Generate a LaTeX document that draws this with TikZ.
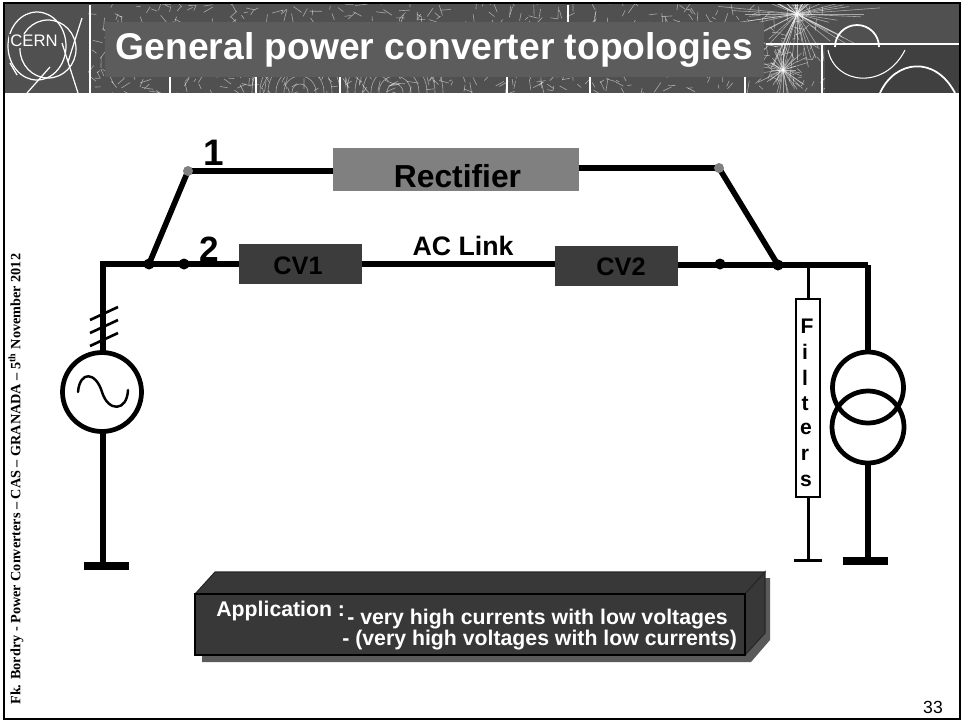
\documentclass[tikz,border=0pt]{standalone}
\usepackage{fontspec}
\setmainfont{Liberation Sans}
\newfontfamily\serifbold{Liberation Serif}
\usepackage{tikz}
\usetikzlibrary{calc}
\definecolor{bannergray}{HTML}{505050}
\definecolor{titlegray}{HTML}{5C5C5C}
\definecolor{rectgray}{HTML}{808080}
\definecolor{cvgray}{HTML}{3C3C3C}
\definecolor{appgray}{HTML}{383838}
\definecolor{shadowgray}{HTML}{5A5A5A}
\tikzset{
    bus/.style={line width=3.2pt, line join=miter},
    thinbus/.style={line width=1.7pt},
    cvbox/.style={fill=cvgray, minimum width=123*0.02cm, minimum height=40*0.02cm, inner sep=0pt},
    cvlabel/.style={font=\fontsize{14.4}{15}\selectfont\bfseries, inner sep=0pt},
    coil/.style={draw, circle, line width=2.7pt, outer sep=0pt, inner sep=0pt},
    letter/.style={font=\fontsize{12}{12}\selectfont\bfseries, inner sep=0pt},
    apptext/.style={font=\fontsize{12.1}{13}\selectfont\bfseries, text=white, inner sep=0pt, anchor=west},
    tex/.style={white, opacity=0.5, line width=0.35pt}
}
\begin{document}
\begin{tikzpicture}[x=0.02cm, y=-0.02cm]
    \useasboundingbox (0,0) rectangle (963,721);
    \fill[white] (0,0) rectangle (963,721);
    % banner
    \fill[bannergray] (4,4) rectangle (960,93);
    \begin{scope}
        \clip (4,4) rectangle (960,93);
        \pgfmathsetseed{33}
        \foreach \i in {1,...,700}{
            \pgfmathsetmacro{\px}{90+rnd*735}
            \pgfmathsetmacro{\py}{4+rnd*89}
            \pgfmathsetmacro{\pa}{rnd*360}
            \draw[tex] (\px,\py) -- ++(\pa:3+rnd*10);
        }
        \foreach \a in {0,6,...,354}
            \draw[tex] (797,14) -- ++(\a:20+rnd*70);
        \foreach \a in {0,9,...,351}
            \draw[tex] (783,70) -- ++(\a:10+rnd*22);
        \foreach \r in {8,16,...,48}
            \draw[tex] (300,92) circle (\r);
        \foreach \r in {8,16,...,48}
            \draw[tex] (395,92) circle (\r);
        \fill[black!75] (825,45) rectangle (960,93);
        \draw[white, line width=1pt] (835,47) arc (180:360:22);
        \draw[white, line width=1pt] (880,93) .. controls (895,60) and (935,55) .. (955,93);
        \draw[white!80, line width=0.6pt] (828,50) .. controls (835,85) and (885,90) .. (905,50);
        \fill[bannergray] (5,5) rectangle (88,93);
        \draw[white!75, line width=0.8pt] (90,5) -- (90,93);
        \draw[white!75, line width=0.8pt] (568,5) -- (568,22) (766,44) -- (960,44) (822,44) -- (822,93);
        \draw[white!75, line width=0.8pt] (170,77) -- (170,93) (256,77) -- (256,93) (340,77) -- (340,93) (507,77) -- (507,93) (590,77) -- (590,93) (745,77) -- (745,93);
    \end{scope}
    % logo
    \draw[white!85, line width=0.7pt] (37,46) ellipse (29 and 34);
    \draw[white!85, line width=0.7pt] (48,49) ellipse (28 and 29);
    \draw[white!85, line width=0.7pt] (82,18) -- (68,62) (27,93) -- (50,67) (62,43) -- (78,93) (10,63) -- (17,75);
    \node[white!90, fill=bannergray, inner sep=0.5pt, font=\fontsize{9.5}{10}\selectfont] (cern) at (34,41) {CERN};
    % title
    \node[fill=titlegray, text=white, minimum width=659*0.02cm, minimum height=55*0.02cm, inner sep=0pt, font=\fontsize{21.2}{22}\selectfont\bfseries] (title) at (434.5,49.5) {General power converter topologies};
    % frame
    \draw[line width=1.3pt] (4,3) rectangle (960,719);
    % junctions
    \coordinate (bendL) at (103,264);
    \coordinate (forkL) at (149,264);
    \coordinate (contact2) at (184,264);
    \coordinate (contact1) at (188,171);
    \coordinate (contactR1) at (719,168);
    \coordinate (contactR2) at (720,264);
    \coordinate (forkR) at (778,265);
    \coordinate (filterTop) at (808,265);
    \coordinate (bendR) at (868,265);
    \coordinate (gndL) at (103,566);
    \coordinate (gndF) at (808,560);
    \coordinate (gndT) at (868,561);
    % converters
    \node[fill=rectgray, minimum width=246*0.02cm, minimum height=43*0.02cm, inner sep=0pt] (rect) at (456,169.5) {};
    \node[font=\fontsize{18.1}{19}\selectfont\bfseries, inner sep=0pt] (rectlabel) at (457.5,176) {Rectifier};
    \node[cvbox] (cv1) at (300.5,264) {};
    \node[cvbox] (cv2) at (616.5,266) {};
    \node[cvlabel] (cv1label) at (298,266) {CV1};
    \node[cvlabel] (cv2label) at (621,267) {CV2};
    \draw[bus] (contact1) -- (contact1 -| rect.west);
    \draw[bus] (contactR1 -| rect.east) -- (contactR1);
    \draw[bus] (contact1) -- (forkL);
    \draw[bus] (contactR1) -- (forkR);
    \draw[bus] (bendL -| cv1.east) -- (bendL -| cv2.west);
    \draw[bus] (forkR -| cv2.east) -- (forkR) -- (bendR);
    \foreach \pt in {forkL,contact2,contactR2,forkR}
        \fill (\pt) circle (5.5);
    \fill[gray] (contact1) circle (5);
    \fill[gray] (contactR1) circle (5);
    \node[font=\fontsize{21}{21}\selectfont\bfseries, inner sep=0pt] (one) at (214,153) {1};
    \node[font=\fontsize{20}{20}\selectfont\bfseries, inner sep=0pt] (two) at (209,249) {2};
    \node[font=\fontsize{15.2}{16}\selectfont\bfseries, inner sep=0pt] (aclink) at (463,246) {AC Link};
    % source
    \node[coil, minimum size=79*0.02cm] (source) at (102,392) {};
    \draw[bus] (bendL -| cv1.west) -- (bendL) -- (bendL |- source.north);
    \draw[bus] (bendL |- source.south) -- (gndL);
    \draw[line width=1.4pt, line cap=round] (78,392) .. controls (80,370) and (96,372) .. (102,392) .. controls (108,412) and (127,412) .. (128,390);
    \foreach \y in {0,13,26}
        \draw[line width=1.5pt] (90,320+\y) -- (118,307+\y);
    \draw[line width=4.2pt] (84,566) -- (129,566);
    % filters
    \draw[thinbus] (filterTop) -- (808,299);
    \node[draw, line width=1.3pt, fill=white, minimum width=24*0.02cm, minimum height=198*0.02cm, inner sep=0pt] (filters) at (808,398) {};
    \draw[thinbus] (filters.south) -- (gndF);
    \draw[thinbus] (794,560) -- (822,560);
    \node[letter] (f1) at (807,326) {F};
    \node[letter] (f2) at (805,352) {i};
    \node[letter] (f3) at (805,378) {l};
    \node[letter] (f4) at (805,404) {t};
    \node[letter] (f5) at (806,429) {e};
    \node[letter] (f6) at (805,455) {r};
    \node[letter] (f7) at (806,481) {s};
    % transformer
    \node[coil, minimum size=71*0.02cm] (coilA) at (868,387.5) {};
    \node[coil, minimum size=72*0.02cm] (coilB) at (868,427) {};
    \draw[bus] (bendR) -- (coilA.north);
    \draw[bus] (coilB.south) -- (gndT);
    \draw[line width=4.2pt] (843,561) -- (888,561);
    % application box
    \fill[shadowgray] (202,600) -- (770,578) -- (770,640) -- (751,662) -- (202,662) -- cycle;
    \draw[appgray!70!black, line width=0.6pt, fill=appgray] (195,594) -- (215,572) -- (765,572) -- (745,594) -- cycle;
    \draw[appgray!70!black, line width=0.6pt, fill=appgray] (745,594) -- (765,572) -- (765,633) -- (745,655) -- cycle;
    \node[draw=black, line width=0.8pt, fill=appgray, minimum width=550*0.02cm, minimum height=61*0.02cm, inner sep=0pt] (appbox) at (470,624.5) {};
    \node[apptext] (applabel) at (216,611) {Application :};
    \node[apptext] (appA) at (347,619) {- very high currents with low voltages};
    \node[apptext] (appB) at (342,640) {- (very high voltages with low currents)};
    % footer
    \node[rotate=90, anchor=west, inner sep=0pt, font=\serifbold\fontsize{8.1}{8}\selectfont\bfseries] (footer) at (16,705) {Fk. Bordry - Power Converters – CAS – GRANADA – 5\textsuperscript{th} November 2012};
    \node[font=\fontsize{10}{10}\selectfont, inner sep=0pt] (pagenum) at (933,707) {33};
\end{tikzpicture}
\end{document}
